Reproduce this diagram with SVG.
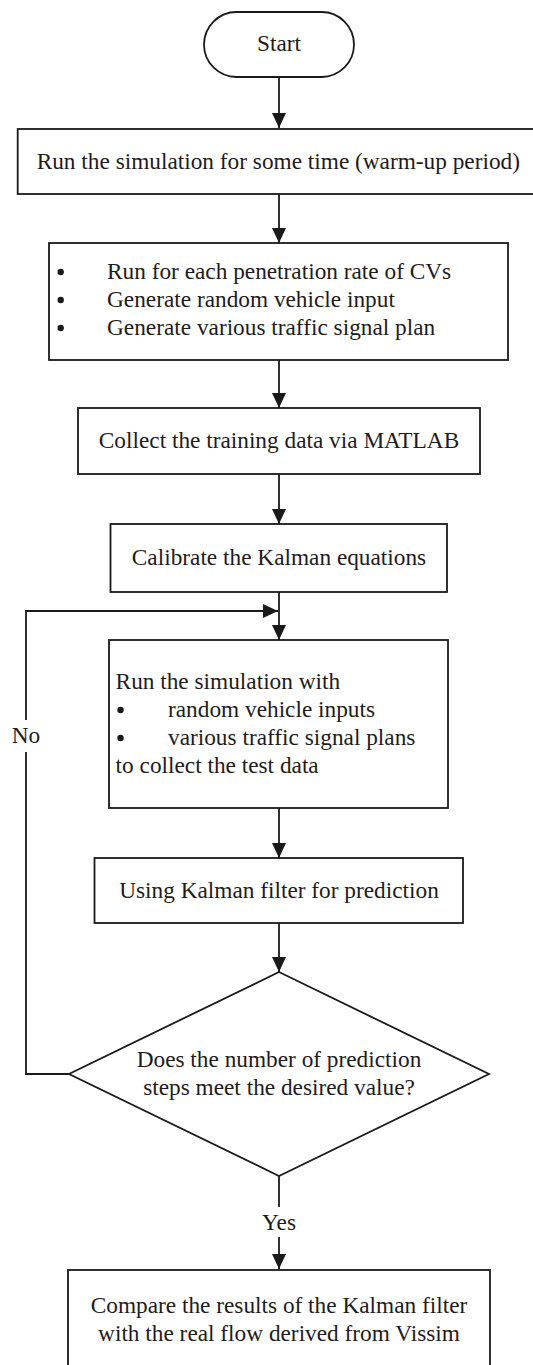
<svg xmlns="http://www.w3.org/2000/svg" width="533" height="1365" viewBox="0 0 533 1365">
<style>
.n{fill:#fff;stroke:#1a1a1a;stroke-width:1.8}
.t{font-family:"Liberation Serif","Times New Roman",serif;font-size:23.3px;fill:#1f1b1c}
.m{text-anchor:middle}
.c{fill:none;stroke:#1a1a1a;stroke-width:1.8}
.b{fill:#1a1a1a}
</style>
<defs>
<marker id="ah" viewBox="0 0 15 14" refX="15" refY="7" markerWidth="15" markerHeight="14" markerUnits="userSpaceOnUse" orient="auto">
<path d="M0,0 L15,7 L0,14 Z" fill="#1a1a1a"/>
</marker>
</defs>
<rect width="533" height="1365" fill="#fff"/>
<g id="connectors">
<line class="c" x1="279" y1="77" x2="279" y2="128" marker-end="url(#ah)"/>
<line class="c" x1="279" y1="194" x2="279" y2="243" marker-end="url(#ah)"/>
<line class="c" x1="279" y1="360" x2="279" y2="408" marker-end="url(#ah)"/>
<line class="c" x1="279" y1="474" x2="279" y2="524" marker-end="url(#ah)"/>
<line class="c" x1="279" y1="592" x2="279" y2="640" marker-end="url(#ah)"/>
<line class="c" x1="279" y1="808" x2="279" y2="858" marker-end="url(#ah)"/>
<line class="c" x1="279" y1="923" x2="279" y2="972" marker-end="url(#ah)"/>
<polyline class="c" points="69,1074 26,1074 26,752"/>
<polyline class="c" points="26,720 26,611 278,611" marker-end="url(#ah)"/>
<text class="t m" x="26" y="743">No</text>
<line class="c" x1="279" y1="1176" x2="279" y2="1207"/>
<text class="t m" x="279" y="1230">Yes</text>
<line class="c" x1="279" y1="1237" x2="279" y2="1269" marker-end="url(#ah)"/>
</g>
<g id="start">
<rect class="n" x="204" y="12" width="150" height="65" rx="32.5"/>
<text class="t m" x="279" y="51">Start</text>
</g>
<g id="warmup">
<rect class="n" x="17.7" y="129" width="530" height="65"/>
<text class="t" x="36.7" y="169">Run the simulation for some time (warm-up period)</text>
</g>
<g id="generate">
<rect class="n" x="49" y="243" width="459" height="117"/>
<circle class="b" cx="60.7" cy="272" r="3.2"/>
<circle class="b" cx="60.7" cy="300" r="3.2"/>
<circle class="b" cx="60.7" cy="328" r="3.2"/>
<text class="t" x="107" y="279">Run for each penetration rate of CVs</text>
<text class="t" x="107" y="307">Generate random vehicle input</text>
<text class="t" x="107" y="335">Generate various traffic signal plan</text>
</g>
<g id="collect">
<rect class="n" x="78" y="408" width="402" height="66"/>
<text class="t m" x="279" y="448">Collect the training data via MATLAB</text>
</g>
<g id="calibrate">
<rect class="n" x="110.5" y="524" width="336.5" height="68"/>
<text class="t m" x="279" y="565">Calibrate the Kalman equations</text>
</g>
<g id="runtest">
<rect class="n" x="109" y="640" width="339" height="168"/>
<text class="t" x="115.6" y="689">Run the simulation with</text>
<circle class="b" cx="120.5" cy="710" r="3.2"/>
<circle class="b" cx="120.5" cy="738" r="3.2"/>
<text class="t" x="168" y="717">random vehicle inputs</text>
<text class="t" x="168" y="745">various traffic signal plans</text>
<text class="t" x="115.6" y="773">to collect the test data</text>
</g>
<g id="predict">
<rect class="n" x="94.5" y="858" width="368.5" height="65"/>
<text class="t m" x="279" y="898">Using Kalman filter for prediction</text>
</g>
<g id="decision">
<polygon class="n" points="279,972 489,1074 279,1176 69,1074"/>
<text class="t m" x="279" y="1067">Does the number of prediction</text>
<text class="t m" x="279" y="1095">steps meet the desired value?</text>
</g>
<g id="compare">
<rect class="n" x="68" y="1270" width="422" height="110"/>
<text class="t m" x="279" y="1313">Compare the results of the Kalman filter</text>
<text class="t m" x="279" y="1341">with the real flow derived from Vissim</text>
</g>
</svg>
